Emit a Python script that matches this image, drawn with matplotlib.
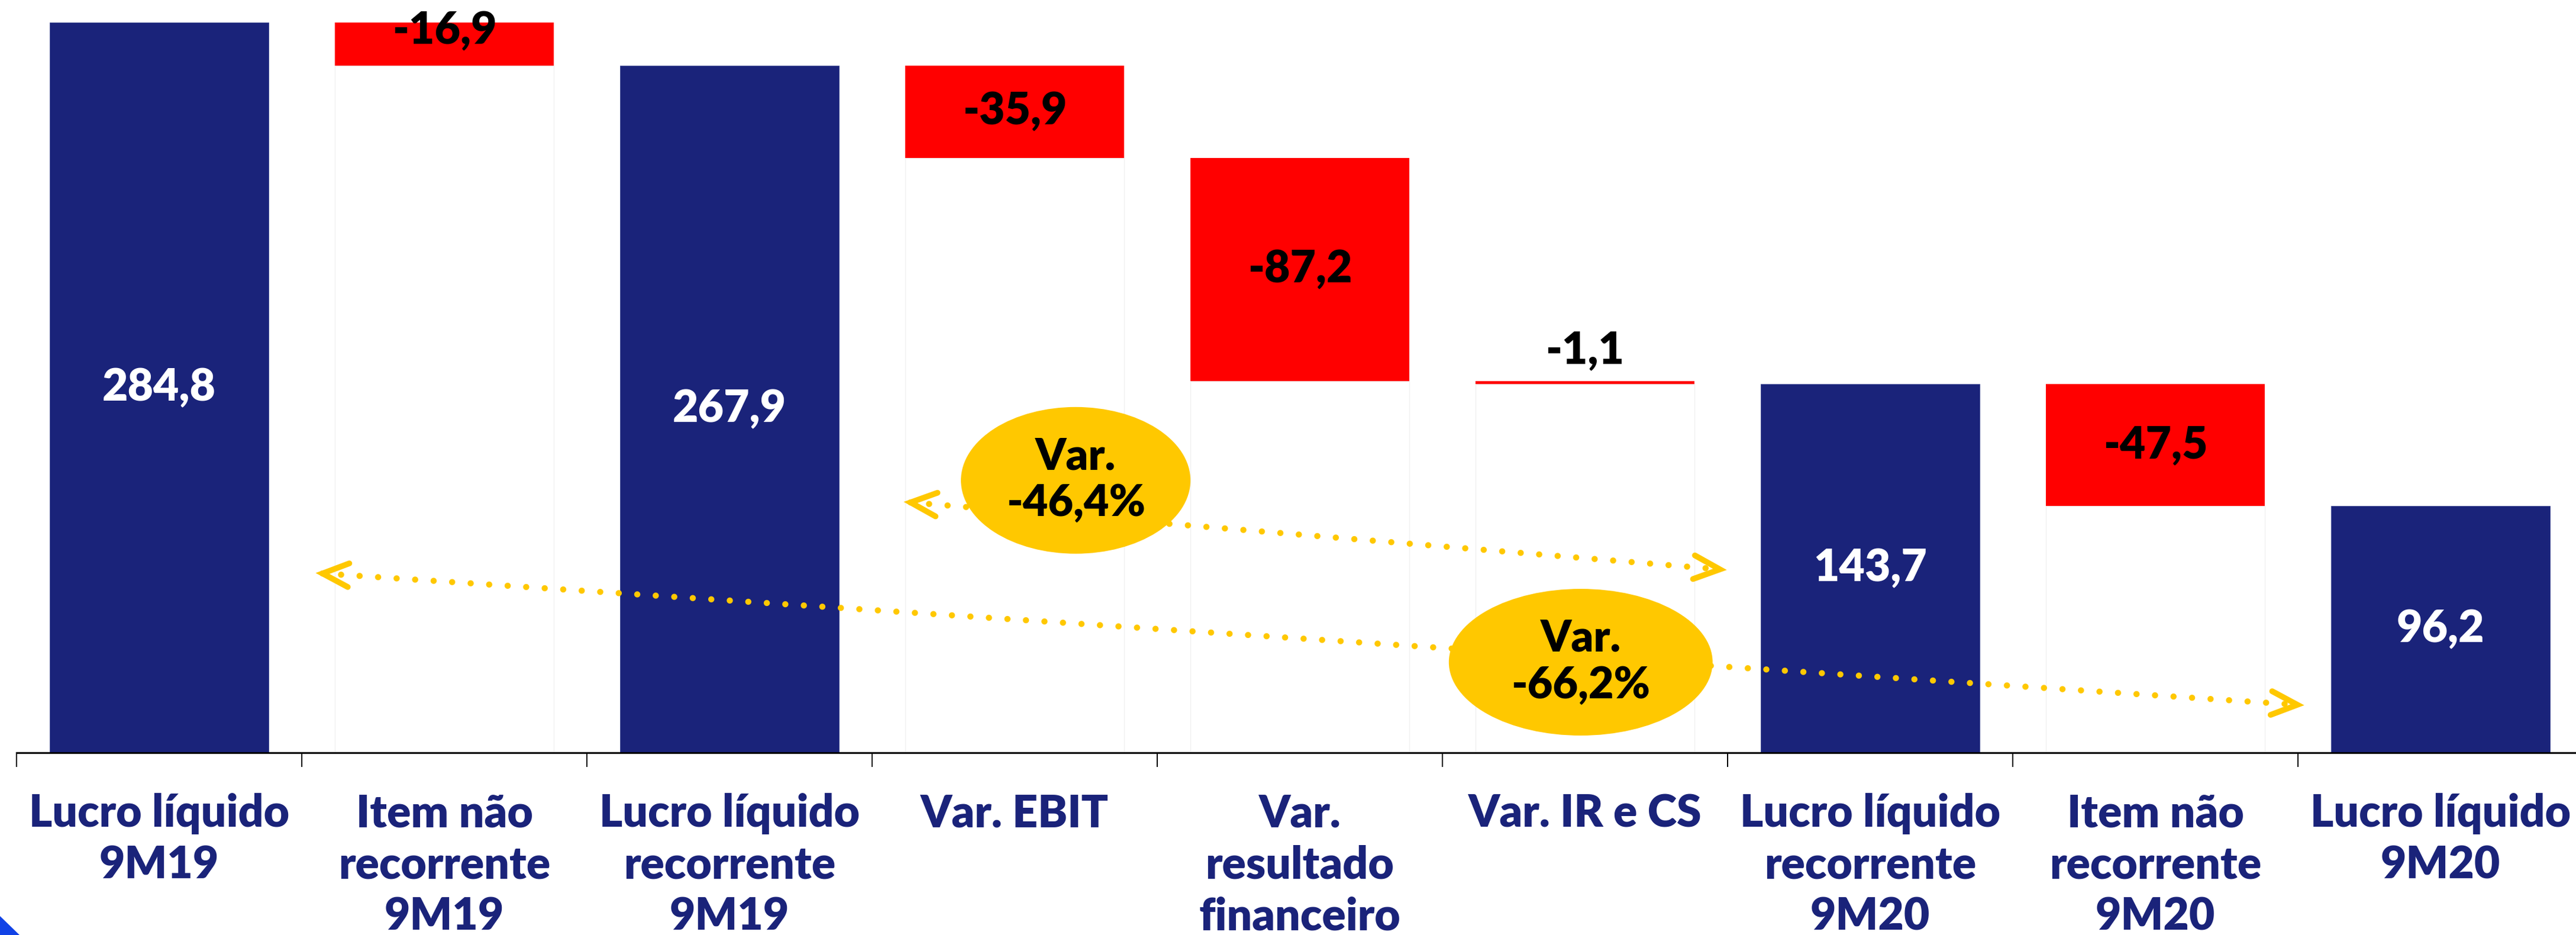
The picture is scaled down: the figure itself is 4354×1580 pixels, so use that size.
import numpy as np
import matplotlib
matplotlib.use("Agg")
import matplotlib.pyplot as plt
from matplotlib.patches import Ellipse, Polygon

# data
categories = [
    "Lucro líquido\n9M19",
    "Item não\nrecorrente\n9M19",
    "Lucro líquido\nrecorrente\n9M19",
    "Var. EBIT",
    "Var.\nresultado\nfinanceiro",
    "Var. IR e CS",
    "Lucro líquido\nrecorrente\n9M20",
    "Item não\nrecorrente\n9M20",
    "Lucro líquido\n9M20",
]
values = [284.8, -16.9, 267.9, -35.9, -87.2, -1.1, 143.7, -47.5, 96.2]
is_total = [True, False, True, False, False, False, True, False, True]
value_labels = ["284,8", "-16,9", "267,9", "-35,9", "-87,2", "-1,1", "143,7", "-47,5", "96,2"]

var_labels = ["Var.\n-46,4%", "Var.\n-66,2%"]

NAVY = "#1A237A"
RED = "#FF0000"
YELLOW = "#FFC800"
FONT = "Lato"
WEIGHT = "heavy"

W, H = 4354, 1580
fig = plt.figure(figsize=(W / 100, H / 100), dpi=100)
ax = fig.add_axes([28 / W, 308 / H, 9 * 482 / W, 1272 / H])
ax.set_xlim(0, 9)
ax.set_ylim(0, 293.5)

x = np.arange(len(values)) + 0.5
bw = 0.766

# waterfall
running = 0.0
bottoms, heights = [], []
for v, tot in zip(values, is_total):
    if tot:
        bottoms.append(0.0)
        heights.append(v)
        running = v
    else:
        running += v
        bottoms.append(running)
        heights.append(-v)

for i in range(len(values)):
    if is_total[i]:
        ax.bar(x[i], heights[i], bw, bottom=0, color=NAVY, edgecolor="#3a4590",
               linewidth=0.6, zorder=2)
    else:
        # invisible base
        ax.bar(x[i], bottoms[i], bw, bottom=0, color="white", edgecolor="#f0f0f0",
               linewidth=1, zorder=1)
        ax.bar(x[i], heights[i], bw, bottom=bottoms[i], color=RED, linewidth=0,
               zorder=2)

# value labels
label_shift = {1: 5.0, 5: 12.1}
for i in range(len(values)):
    if i == 5:
        y = bottoms[i] + heights[i] + label_shift[i]
    else:
        y = bottoms[i] + heights[i] / 2 + label_shift.get(i, 0)
    ax.text(x[i], y, value_labels[i], ha="center", va="center",
            color="white" if is_total[i] else "black", fontsize=54,
            fontweight=WEIGHT, family=FONT, zorder=6)

# axis styling
for s in ["top", "right", "left"]:
    ax.spines[s].set_visible(False)
ax.spines["bottom"].set_linewidth(2.2)
ax.set_yticks([])
ax.set_xticks(x)
ax.set_xticklabels(categories, fontsize=54, fontweight=WEIGHT, family=FONT,
                   color=NAVY, linespacing=1.3)
ax.set_xticks(np.arange(10), minor=True)
ax.tick_params(axis="x", which="major", length=0, pad=49)
ax.tick_params(axis="x", which="minor", length=17, width=1.4, color="black")


def chevron(tip, toward, arm=44, half=20):
    p0 = ax.transData.transform(tip)
    p1 = ax.transData.transform(toward)
    d = (p1 - p0) / np.linalg.norm(p1 - p0)
    n = np.array([-d[1], d[0]])
    pts = np.array([p0 + d * arm + n * half, p0, p0 + d * arm - n * half])
    pts = ax.transData.inverted().transform(pts)
    ax.plot(pts[:, 0], pts[:, 1], color=YELLOW, lw=7, solid_capstyle="round",
            solid_joinstyle="miter", zorder=4)


arrows = [((3.135, 97.6), (5.973, 71.5)), ((1.073, 69.9), (7.998, 18.7))]
for a, b in arrows:
    ax.plot([a[0], b[0]], [a[1], b[1]], color=YELLOW, lw=7.5,
            linestyle=(0, (0.01, 3.0)), dash_capstyle="round", zorder=4)
    chevron(a, b)
    chevron(b, a)

ellipses = [((3.714, 106.2), 0.805, 57.2), ((5.485, 35.3), 0.925, 57.2)]
for (c, w, h), txt in zip(ellipses, var_labels):
    ax.add_patch(Ellipse(c, w, h, facecolor=YELLOW, edgecolor="none", zorder=5))
    ax.text(c[0], c[1], txt, ha="center", va="center", fontsize=53,
            fontweight=WEIGHT, family=FONT, color="black", linespacing=1.2,
            zorder=6)

# corner decoration
fig.patches.append(Polygon([[0, 32 / H], [33 / W, 0], [0, 0]], closed=True,
                           transform=fig.transFigure, facecolor="#1142E6",
                           edgecolor="none"))

fig.savefig("out.png", dpi=100)
